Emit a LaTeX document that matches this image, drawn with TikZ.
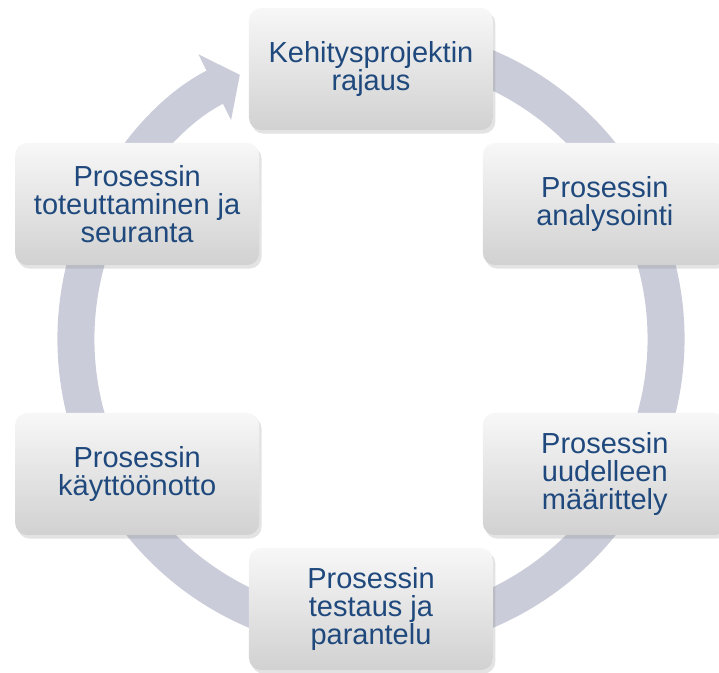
\documentclass[tikz,border=0pt]{standalone}
\usepackage{fontspec}
\setmainfont{Liberation Sans}
\usetikzlibrary{arrows.meta,shadows}
\definecolor{ringgray}{RGB}{202,205,217}
\definecolor{textblue}{RGB}{31,73,125}

\begin{document}
\begin{tikzpicture}[font=\fontsize{14.5}{14}\selectfont, >=Triangle]
\tikzstyle{phase} = [rectangle, rounded corners=6pt, minimum width=122pt,
    minimum height=61pt, align=center, text=textblue,
    top color=white!97!black, bottom color=black!18,
    drop shadow={shadow xshift=1.2pt, shadow yshift=-1.8pt, opacity=0.22}]
\tikzstyle{ring} = [draw=ringgray, line width=18.5pt]

\useasboundingbox (-185.5pt,-167pt) rectangle (174pt,169.5pt);

% the cycle behind the boxes
\draw[ring, -{Triangle[length=14pt,width=36pt]}] (75:147.5pt)
    arc[start angle=75, end angle=-243.6, radius=147.5pt];

\node[phase] (rajaus) at (90:135pt) {Kehitysprojektin\\rajaus};
\node[phase] (analysointi) at (30:135pt) {Prosessin\\analysointi};
\node[phase] (maarittely) at (-30:135pt) {Prosessin\\uudelleen\\määrittely};
\node[phase] (testaus) at (-90:135pt) {Prosessin\\testaus ja\\parantelu};
\node[phase] (kayttoonotto) at (-150:135pt) {Prosessin\\käyttöönotto};
\node[phase] (seuranta) at (150:135pt) {Prosessin\\toteuttaminen ja\\seuranta};

\end{tikzpicture}
\end{document}
